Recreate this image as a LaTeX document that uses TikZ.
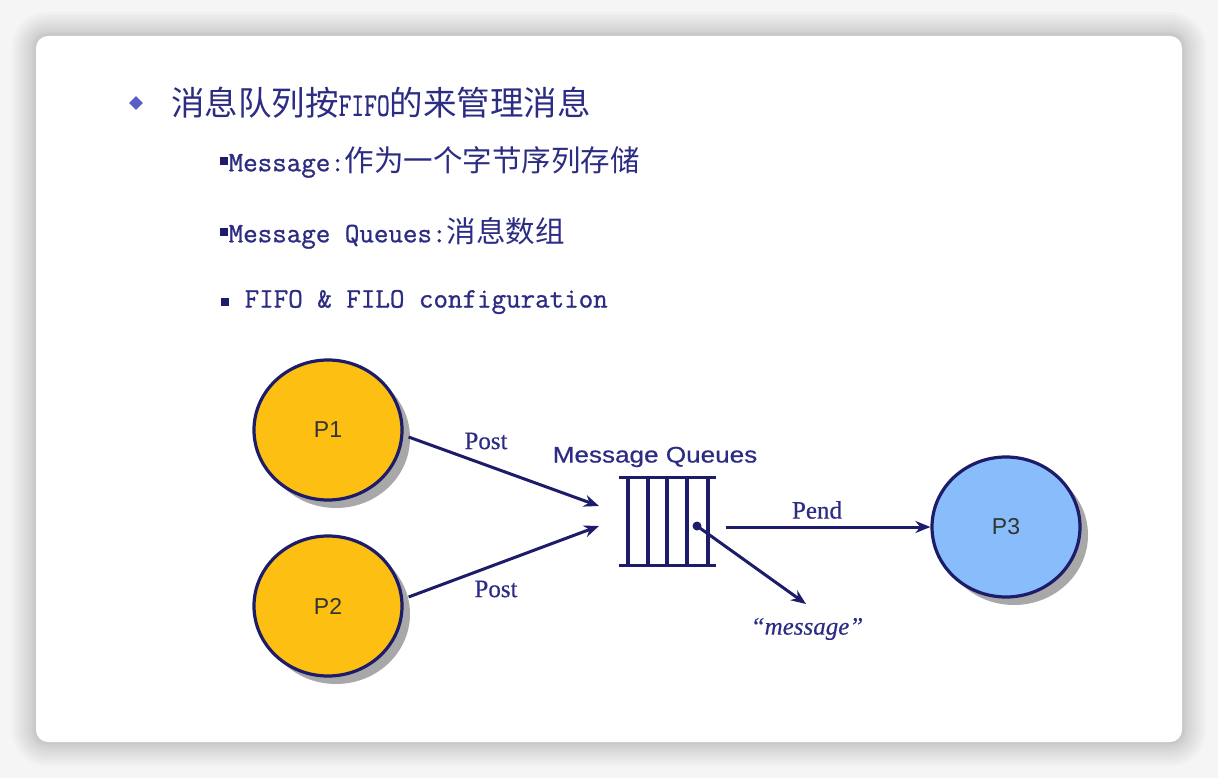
\documentclass[tikz,border=0pt]{standalone}
\usepackage{fontspec}
\setmainfont{Liberation Serif}
\setsansfont{Liberation Sans}
\newfontfamily\cjk{Noto Sans CJK SC}
\newfontfamily\heavysans[FakeBold=0.6]{Liberation Sans}
\newfontfamily\heavyserif[FakeBold=0.4]{Liberation Serif}
\newfontfamily\heavymono[FakeBold=0.9]{Latin Modern Mono}
\usetikzlibrary{arrows.meta,shapes.geometric}

\definecolor{navy}{HTML}{1C1C6A}
\definecolor{ink}{HTML}{2C2C82}
\definecolor{gold}{HTML}{FCBF12}
\definecolor{sky}{HTML}{88BCFA}
\definecolor{bulletblue}{HTML}{5A5EC6}
\definecolor{pagebg}{HTML}{F5F5F5}
\definecolor{shade}{HTML}{A8A8A8}

\tikzset{
  proc/.style={ellipse, draw=navy, line width=3.2pt, minimum width=148pt,
    minimum height=140pt, inner sep=0pt, text=black!80,
    font=\sffamily\fontsize{23}{23}\selectfont},
  shadowblob/.style={ellipse, fill=shade, minimum width=148pt,
    minimum height=140pt, inner sep=0pt},
  flow/.style={navy, line width=3pt, -{Stealth[length=15pt,width=12pt]}},
  qline/.style={navy, line width=3.2pt},
  lbl/.style={text=ink, font=\heavyserif\fontsize{25}{25}\selectfont, inner sep=1pt},
  sub/.style={anchor=west, text=ink, inner sep=0pt},
  subsq/.style={fill=navy, minimum size=8pt, inner sep=0pt},
}

\begin{document}
\begin{tikzpicture}[x=1pt,y=-1pt]
\useasboundingbox (0,0) rectangle (1218,778);
\fill[pagebg] (0,0) rectangle (1218,778);

% soft halo round the slide card
\foreach \d/\r in {24/36,21/33,18/30,15/27,12/24,9/21,6/18,4/16,2/14}
  \fill[black, opacity=0.02, rounded corners=\r pt]
    (36-\d,36-\d) rectangle (1182+\d,742+\d);
\fill[white, rounded corners=12pt] (36,36) rectangle (1182,742);

% heading bullet and text
\node[diamond, fill=bulletblue, minimum size=14pt, inner sep=0pt] (dia) at (136,103) {};
\node[anchor=west, text=ink, inner sep=0pt] (title) at (171,103)
  {\cjk\fontsize{33.5}{33.5}\selectfont 消息队列按\scalebox{0.75}[1]{\heavymono\fontsize{33}{33}\selectfont FIFO}的来管理消息};

% sub bullets
\node[subsq] (b1) at (223.5,161.5) {};
\node[sub] (s1) at (228.5,162)
  {{\heavymono\fontsize{28.2}{28.2}\selectfont Message:}{\cjk\fontsize{29.5}{29.5}\selectfont 作为一个字节序列存储}};
\node[subsq] (b2) at (223.5,232.5) {};
\node[sub] (s2) at (228.5,233)
  {{\heavymono\fontsize{28.2}{28.2}\selectfont Message Queues:}{\cjk\fontsize{29.5}{29.5}\selectfont 消息数组}};
\node[subsq] (b3) at (224.5,301.5) {};
\node[sub] (s3) at (244.5,302)
  {\heavymono\fontsize{28.2}{28.2}\selectfont FIFO \& FILO configuration};

% drop shadows of the processes
\node[shadowblob] (sh1) at (336,438) {};
\node[shadowblob] (sh2) at (336,614) {};
\node[shadowblob] (sh3) at (1014,535) {};

% processes
\node[proc, fill=gold] (p1) at (328,430) {P1};
\node[proc, fill=gold] (p2) at (328,606) {P2};
\node[proc, fill=sky] (p3) at (1006,527) {P3};

% the queue
\coordinate (qtl) at (619,477.5);
\coordinate (qtr) at (716,477.5);
\coordinate (qbl) at (619,565.5);
\coordinate (qbr) at (716,565.5);
\draw[qline] (qtl) -- (qtr);
\draw[qline] (qbl) -- (qbr);
\foreach \x in {628,648,667,687,708}
  \draw[qline] (\x,477.5) -- (\x,565.5);
\node[text=ink, inner sep=0pt] (qname) at (655,457)
  {\scalebox{1.16}[1]{\heavysans\fontsize{22.5}{22.5}\selectfont Message Queues}};

% posting and pending
\coordinate (in1) at (599,506);
\coordinate (in2) at (599,526);
\coordinate (outs) at (726,527);
\coordinate (hold) at (697,526);
\coordinate (msg) at (806,604);

\draw[flow] (p1.east |- 0,437) ++(5,0) -- (in1);
\draw[flow] (p2.east |- 0,597) ++(5,0) -- (in2);
\draw[flow] (outs) -- (p3.west);
\fill[navy] (hold) circle (4.5pt);
\draw[flow] (hold) -- (msg);

\node[lbl] (post1) at (486,441) {Post};
\node[lbl] (post2) at (496,589) {Post};
\node[lbl] (pend) at (817,510) {Pend};
\node[lbl, font=\heavyserif\itshape\fontsize{25}{25}\selectfont] (mtext) at (807,629) {“message”};
\end{tikzpicture}
\end{document}
